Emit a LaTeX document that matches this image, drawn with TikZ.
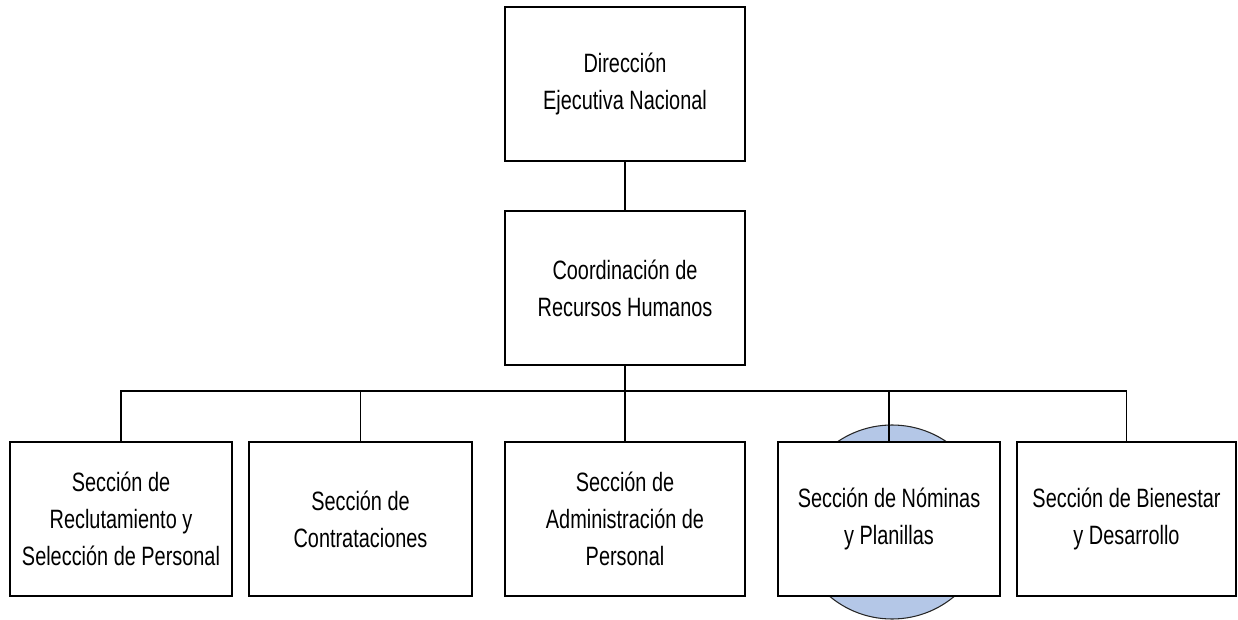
\documentclass[tikz,border=0pt]{standalone}
\usepackage{fontspec}
\setmainfont{Liberation Sans}[FakeStretch=0.75]
\definecolor{circfill}{RGB}{180,199,231}
\begin{document}
\begin{tikzpicture}[x=0.75pt,y=-0.75pt,
  box/.style={draw=black,line width=1.4pt,fill=white,rectangle,align=center,
    inner sep=0pt,minimum height=115.5pt,
    font=\fontsize{19.9}{27.75}\selectfont},
  conn/.style={draw=black,line width=1.1pt}]
\useasboundingbox (0,0) rectangle (1238,620);
\node[circle,draw=black!85,line width=0.8pt,fill=circfill,minimum size=145.5pt,inner sep=0pt] (circ) at (892,522) {};
\node[box,minimum width=180pt] (top) at (625,84) {Dirección\\Ejecutiva Nacional};
\node[box,minimum width=180pt] (mid) at (625,288) {Coordinación de\\Recursos Humanos};
\node[box,minimum width=166.5pt] (b1) at (121,519) {Sección de\\Reclutamiento y\\Selección de Personal};
\node[box,minimum width=167.25pt] (b2) at (360.5,519) {Sección de\\Contrataciones};
\node[box,minimum width=180pt] (b3) at (625,519) {Sección de\\Administración de\\Personal};
\node[box,minimum width=166.5pt] (b4) at (889,519) {Sección de Nóminas\\y Planillas};
\node[box,minimum width=164.25pt] (b5) at (1126.5,519) {Sección de Bienestar\\y Desarrollo};
\coordinate (bus) at (625,391);
\draw[conn] (top.south) -- (mid.north);
\draw[conn] (mid.south) -- (bus);
\draw[conn] (b1.north) -- (b1.north |- bus) -- (b5.north |- bus) -- (b5.north);
\draw[conn] (b2.north) -- (b2.north |- bus);
\draw[conn] (b3.north) -- (b3.north |- bus);
\draw[conn] (b4.north) -- (b4.north |- bus);
\end{tikzpicture}
\end{document}
